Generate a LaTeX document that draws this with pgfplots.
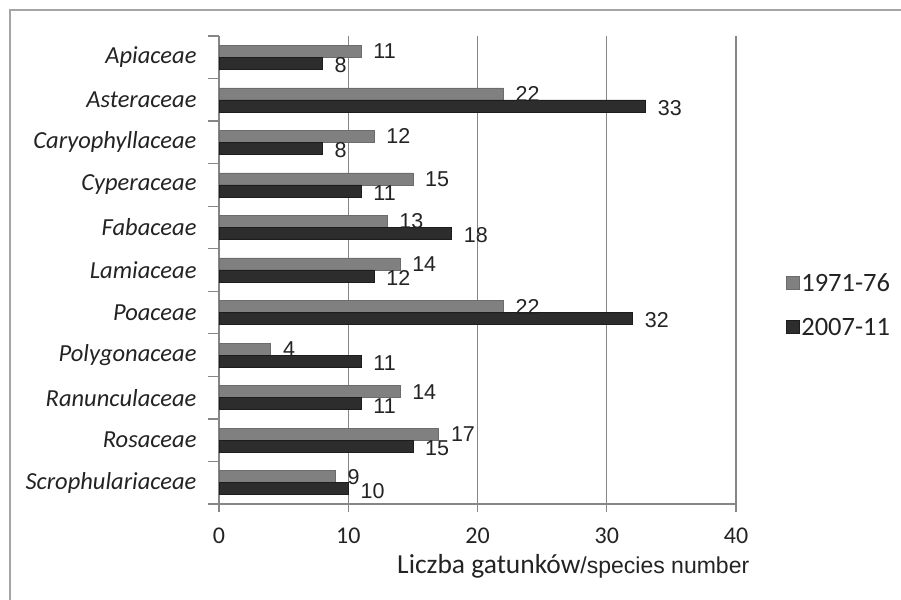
\documentclass[border=0pt]{standalone}
\usepackage{fontspec}
\setmainfont{Carlito}
\newfontfamily\arialf{Liberation Sans}
\usepackage{pgfplots}
\pgfplotsset{compat=1.18}
\definecolor{grayA}{RGB}{128,128,128}
\definecolor{grayAline}{RGB}{108,108,108}
\definecolor{darkB}{RGB}{45,45,45}
\definecolor{darkBline}{RGB}{28,28,28}
\definecolor{axgray}{RGB}{134,134,134}
\definecolor{frame}{RGB}{165,165,165}
\definecolor{txt}{RGB}{35,35,35}
\begin{document}
\begin{tikzpicture}
\path[use as bounding box] (0,0) rectangle (901pt,599pt);
\draw[line width=2.2pt, frame] (10pt,-5pt) -- (10pt,589pt) -- (910pt,589pt);
\begin{axis}[
 at={(219pt,95pt)}, anchor=south west,
 scale only axis, width=517pt, height=468pt,
 xbar, bar width=12pt,
 xmin=0, xmax=40, ymin=-0.5, ymax=10.5,
 axis x line*=bottom, axis y line*=left,
 axis line style={axgray, line width=1.2pt},
 xtick={0,10,20,30,40},
 xmajorgrids, grid style={axgray, line width=1.2pt},
 ytick={0,...,10},
 yticklabels={Scrophulariaceae,Rosaceae,Ranunculaceae,Polygonaceae,Poaceae,Lamiaceae,Fabaceae,Cyperaceae,Caryophyllaceae,Asteraceae,Apiaceae},
 minor ytick={-0.5,0.5,...,10.5},
 tick align=outside,
 major tick length=8pt,
 minor tick length=11pt,
 tick style={axgray, line width=1.2pt},
 major y tick style={draw=none},
 /pgf/number format/assume math mode=true,
 xticklabel style={font=\fontsize{24}{28}\selectfont, text=txt, yshift=-12pt},
 yticklabel style={font=\fontsize{24.5}{28}\selectfont\itshape, text=txt, xshift=-11pt},
 nodes near coords,
 every node near coord/.append style={anchor=west, inner sep=0pt, xshift=12pt, font=\arialf\fontsize{21.5}{25}\selectfont, text=txt},
 legend style={draw=none, fill=none, font=\fontsize{26.5}{30}\selectfont, text=txt, at={(axis description cs:1.09,0.425)}, anchor=west, row sep=21pt},
 legend cell align=left,
 legend image code/.code={\draw[#1] (0pt,-6.5pt) rectangle (13pt,6.5pt);},
]
\addplot[fill=grayA, draw=grayAline, line width=0.6pt, bar shift=6pt] coordinates {
 (9,0) (17,1) (14,2) (4,3) (22,4) (14,5) (13,6) (15,7) (12,8) (22,9) (11,10)};
\addplot[fill=darkB, draw=darkBline, line width=0.6pt, bar shift=-6pt,
 every node near coord/.append style={yshift=-2pt}] coordinates {
 (10,0) (15,1) (11,2) (11,3) (32,4) (12,5) (18,6) (11,7) (8,8) (33,9) (8,10)};
\legend{1971-76, 2007-11}
\end{axis}
\node[anchor=base west, inner sep=0pt, text=txt] at (397pt,26pt)
 {\fontsize{27.5}{30}\selectfont Liczba gatunków\arialf\fontsize{23}{26}\selectfont/species number};
\end{tikzpicture}
\end{document}
